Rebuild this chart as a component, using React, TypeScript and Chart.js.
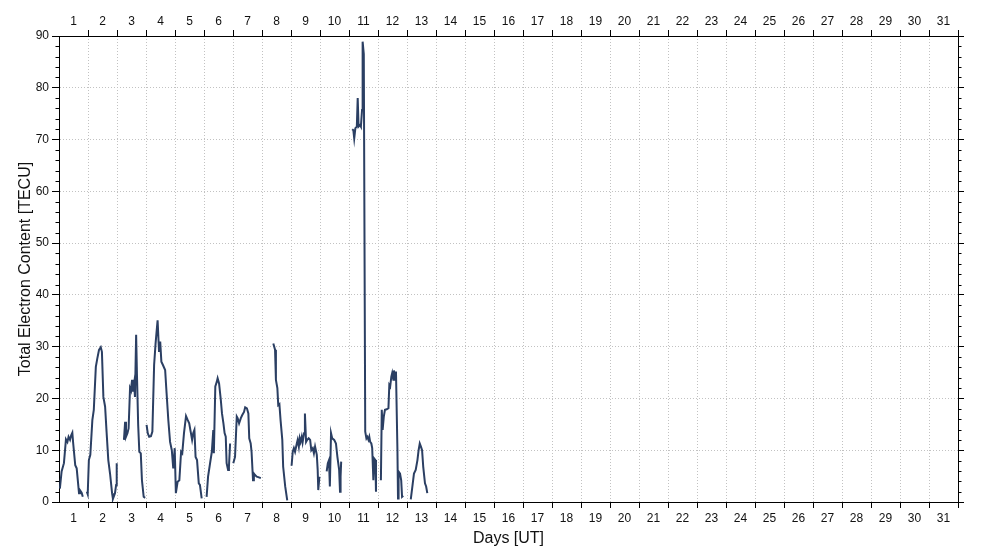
import React, { useEffect, useRef } from 'react';
import { Chart, registerables } from 'chart.js';

Chart.register(...registerables);

// Time in days since start of the month (day N spans N-1 .. N); null marks a data gap
const dayTimes: number[] = [
  0.03, 0.09, 0.17, 0.24, 0.29, 0.33, 0.38, 0.42, 0.46, 0.49, 0.56, 0.61, 0.69, 0.72, 0.78, 0.82,
  0.89,
  0.96, 0.99, 1.03, 1.08, 1.15, 1.2, 1.27, 1.32, 1.38, 1.44, 1.48, 1.53, 1.59, 1.64, 1.7, 1.76, 1.83, 1.86, 1.93, 1.97, 1.99,
  2.12,
  2.24, 2.28, 2.31, 2.36, 2.4, 2.45, 2.48, 2.52, 2.55, 2.59, 2.62, 2.66, 2.69, 2.73, 2.77, 2.82, 2.86, 2.92, 2.97,
  3.0,
  3.02, 3.06, 3.11, 3.17, 3.22, 3.28, 3.33, 3.37, 3.4, 3.45, 3.49, 3.53, 3.58, 3.66, 3.71, 3.77, 3.83, 3.89, 3.94, 3.99,
  4.03, 4.09, 4.15, 4.21, 4.25, 4.31, 4.38, 4.44, 4.49, 4.54, 4.59, 4.63, 4.67, 4.71, 4.76, 4.82, 4.86, 4.92,
  5.0,
  5.09, 5.14, 5.21, 5.27, 5.32, 5.34, 5.39, 5.44, 5.47, 5.52, 5.58, 5.62, 5.67, 5.71, 5.75, 5.78, 5.83, 5.86, 5.9,
  5.95,
  6.01, 6.07, 6.13, 6.16, 6.21, 6.27, 6.32, 6.38, 6.42, 6.48, 6.53, 6.56, 6.61, 6.64, 6.69, 6.72, 6.76, 6.82, 6.87, 6.96,
  7.2,
  7.39, 7.45, 7.48, 7.53, 7.56, 7.6, 7.64, 7.7, 7.73, 7.8, 7.87,
  7.95,
  8.02, 8.06, 8.1, 8.14, 8.2, 8.23, 8.27, 8.3, 8.33, 8.37, 8.4, 8.45, 8.48, 8.52, 8.56, 8.61, 8.66, 8.7, 8.75, 8.79, 8.83, 8.89, 8.92, 8.94, 8.98,
  9.1,
  9.23, 9.27, 9.31, 9.34, 9.38, 9.42, 9.49, 9.55, 9.6, 9.66, 9.69, 9.71, 9.73,
  9.9,
  10.11, 10.15, 10.18, 10.22, 10.27, 10.3, 10.33, 10.38, 10.41, 10.45, 10.47, 10.51, 10.56, 10.6, 10.63, 10.67, 10.7, 10.73, 10.77, 10.8, 10.84, 10.87, 10.91, 10.93,
  11.0,
  11.1, 11.13, 11.16, 11.2, 11.24, 11.3, 11.36, 11.39, 11.42, 11.46, 11.49, 11.53, 11.55, 11.59, 11.62, 11.67, 11.69, 11.71, 11.76, 11.8, 11.83, 11.87,
  12.0,
  12.13, 12.17, 12.24, 12.3, 12.36, 12.4, 12.44, 12.48, 12.52, 12.56, 12.62, 12.66, 12.7,
];

const tecValues: (number | null)[] = [
  2.6, 5.9, 7.5, 12.1, 11.6, 12.6, 12.0, 12.9, 13.4, 11.3, 7.1, 6.5, 1.7, 2.3, 1.8, 1.0,
  null,
  2.0, 1.5, 8.1, 9.1, 15.8, 17.8, 26.1, 27.7, 29.4, 29.9, 29.0, 20.3, 18.4, 13.6, 8.1, 5.5, 1.7, 0.6, 1.7, 3.3, 7.5,
  null,
  12.0, 15.5, 12.6, 13.3, 14.2, 22.0, 21.6, 23.6, 21.3, 22.9, 20.3, 32.3, 24.2, 14.9, 9.7, 9.4, 4.2, 1.0, 0.8,
  null,
  14.9, 13.3, 12.6, 12.7, 13.6, 26.5, 30.6, 33.2, 35.1, 29.0, 31.0, 27.1, 26.5, 25.5, 21.0, 15.8, 11.6, 10.0, 6.5, 10.4,
  1.7, 3.9, 4.2, 9.7, 9.4, 13.3, 16.6, 15.8, 15.2, 13.6, 12.0, 13.3, 13.9, 8.7, 8.1, 3.6, 3.3, 0.7,
  null,
  1.0, 4.9, 7.5, 9.7, 13.9, 9.4, 22.3, 23.2, 23.9, 22.9, 19.7, 17.1, 15.2, 13.3, 12.6, 7.5, 6.2, 6.8, 11.3,
  null,
  7.5, 8.7, 16.5, 16.2, 15.2, 16.2, 16.8, 17.4, 18.3, 18.1, 17.1, 12.3, 11.3, 9.7, 4.2, 5.5, 5.2, 4.9, 4.8, 4.6,
  null,
  30.6, 29.4, 23.6, 22.0, 18.7, 18.9, 15.8, 12.0, 6.8, 3.0, 0.3,
  null,
  7.0, 9.7, 10.4, 9.7, 11.3, 12.0, 10.7, 12.3, 11.6, 12.6, 11.5, 13.3, 17.1, 11.6, 12.0, 12.3, 12.0, 10.0, 10.4, 9.4, 10.7, 9.1, 6.2, 2.3, 4.9,
  null,
  5.9, 7.5, 8.1, 3.0, 13.3, 12.3, 12.0, 11.3, 8.7, 6.2, 2.0, 4.9, 7.8,
  null,
  72.0, 71.8, 70.2, 72.2, 72.5, 78.0, 72.5, 72.8, 72.5, 75.7, 88.9, 86.5, 13.6, 12.3, 12.6, 12.0, 12.6, 11.6, 11.3, 10.4, 4.2, 8.4, 8.1, 2.0,
  null,
  4.2, 17.8, 13.9, 16.5, 17.8, 17.9, 18.1, 22.6, 22.3, 24.2, 24.9, 23.6, 25.4, 23.6, 25.2, 10.0, 0.7, 5.9, 5.5, 4.2, 1.0, 1.2,
  null,
  0.5, 2.3, 5.5, 6.2, 8.1, 10.0, 11.3, 10.7, 10.0, 6.8, 3.6, 3.0, 1.7,
];

const dayLabels: string[] = [
  '1', '2', '3', '4', '5', '6', '7', '8', '9', '10', '11', '12', '13', '14', '15', '16',
  '17', '18', '19', '20', '21', '22', '23', '24', '25', '26', '27', '28', '29', '30', '31',
];

const yMin = 0;
const yMax = 90;
const yMajorStep = 10;
const yMinorStep = 2;

const FONT = "'Liberation Sans', Arial, Helvetica, sans-serif";
const LINE_COLOR = '#2b3f63';
const GRID_COLOR = '#c2c2c2';
const CLEAR = 'rgba(0,0,0,0)';

const minorTicksPlugin = {
  id: 'minorTicks',
  afterDraw(chart: any) {
    const { ctx, chartArea, scales } = chart;
    const y = scales.y;
    ctx.save();
    ctx.strokeStyle = '#000';
    ctx.lineWidth = 1;
    ctx.beginPath();
    for (let v = yMin + yMinorStep; v < yMax; v += yMinorStep) {
      if (v % yMajorStep === 0) continue;
      const py = Math.round(y.getPixelForValue(v)) + 0.5;
      ctx.moveTo(chartArea.left - 3.5, py);
      ctx.lineTo(chartArea.left, py);
      ctx.moveTo(chartArea.right, py);
      ctx.lineTo(chartArea.right + 3.5, py);
    }
    ctx.stroke();
    ctx.restore();
  },
};

function dayAxis(position: 'top' | 'bottom') {
  return {
    type: 'linear' as const,
    position,
    min: 0,
    max: 31,
    afterFit: (s: any) => {
      s.height = position === 'bottom' ? 48 : 36;
    },
    ticks: {
      stepSize: 0.5,
      autoSkip: false,
      maxRotation: 0,
      minRotation: 0,
      padding: position === 'bottom' ? 3.5 : 1,
      color: '#111',
      font: { family: FONT, size: 12 },
      callback: (v: any) => {
        const n = Number(v);
        if (Number.isInteger(n)) return '';
        return dayLabels[Math.floor(n)] ?? '';
      },
    },
    grid: {
      drawOnChartArea: position === 'bottom',
      lineWidth: 1,
      tickLength: 6,
      color: (c: any) => {
        const v = c.tick ? c.tick.value : -1;
        return Number.isInteger(v) && v >= 1 && v <= 30 ? GRID_COLOR : CLEAR;
      },
      tickColor: (c: any) => {
        const v = c.tick ? c.tick.value : -1;
        return Number.isInteger(v) && v >= 1 ? '#000' : CLEAR;
      },
    },
    border: { display: true, color: '#000', width: 1, dash: [1, 2] },
    title:
      position === 'bottom'
        ? {
            display: true,
            text: 'Days [UT]',
            color: '#111',
            font: { family: FONT, size: 16 },
            padding: { top: 0, bottom: 1.5 },
          }
        : { display: false },
  };
}

function tecAxis(position: 'left' | 'right') {
  return {
    type: 'linear' as const,
    position,
    min: yMin,
    max: yMax,
    afterFit: (s: any) => {
      s.width = position === 'left' ? 59 : 42;
    },
    ticks: {
      display: position === 'left',
      stepSize: yMajorStep,
      padding: 3,
      color: '#111',
      font: { family: FONT, size: 12 },
    },
    grid: {
      drawOnChartArea: position === 'left',
      lineWidth: 1,
      tickLength: position === 'left' ? 7 : 6,
      color: (c: any) => {
        const v = c.tick ? c.tick.value : -1;
        return v > yMin && v < yMax ? GRID_COLOR : CLEAR;
      },
      tickColor: '#000',
    },
    border: { display: true, color: '#000', width: 1, dash: [1, 2] },
    title:
      position === 'left'
        ? {
            display: true,
            text: 'Total Electron Content [TECU]',
            color: '#111',
            font: { family: FONT, size: 16 },
            padding: { top: 16, bottom: 0 },
          }
        : { display: false },
  };
}

export default function App() {
  const ref = useRef<HTMLCanvasElement>(null);

  useEffect(() => {
    if (!ref.current) return;
    const points = dayTimes.map((t, i) => ({ x: t, y: tecValues[i] }));
    const chart = new Chart(ref.current, {
      type: 'line',
      data: {
        datasets: [
          {
            data: points as any,
            borderColor: LINE_COLOR,
            borderWidth: 2,
            pointRadius: 0,
            pointHoverRadius: 0,
            tension: 0,
            spanGaps: false,
            fill: false,
            xAxisID: 'x',
            yAxisID: 'y',
          },
        ],
      },
      options: {
        responsive: false,
        animation: false,
        devicePixelRatio: 1,
        layout: { padding: 0 },
        plugins: {
          legend: { display: false },
          tooltip: { enabled: false },
        },
        scales: {
          x: dayAxis('bottom'),
          x2: dayAxis('top'),
          y: tecAxis('left'),
          y2: tecAxis('right'),
        } as any,
      },
      plugins: [minorTicksPlugin],
    });
    return () => chart.destroy();
  }, []);

  return (
    <div style={{ position: 'fixed', left: 0, top: 0, width: 1000, height: 550, background: '#fff' }}>
      <canvas ref={ref} width={1000} height={550} style={{ display: 'block', width: 1000, height: 550 }} />
    </div>
  );
}
